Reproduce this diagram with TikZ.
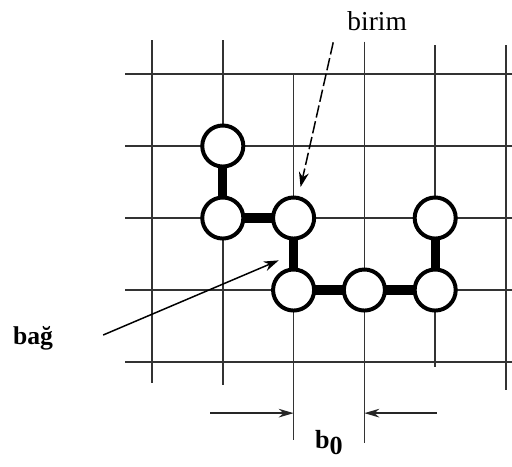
\documentclass[tikz,border=0pt]{standalone}
\usepackage{fontspec}
\setmainfont{Liberation Serif}
\usetikzlibrary{
  arrows.meta,
  calc
}

\begin{document}
\begin{tikzpicture}[
  x=1cm, y=1.017cm,
  every node/.style={font=\fontsize{11}{13}\selectfont},
  gridline/.style={line width=0.6pt, color=black!80},
  unit/.style={circle, draw, line width=1.6pt, fill=white,
    minimum size=0.58cm, inner sep=0pt},
  bond/.style={line width=3.7pt, shorten <=-1pt, shorten >=-1pt},
  ptr/.style={-{Stealth[length=6pt, width=4pt]}, line width=0.6pt},
  dimarr/.style={-{Stealth[length=6pt, width=3.5pt]}, line width=0.6pt, color=black!85}
]
  \useasboundingbox (-2.147,-1.458) rectangle (5.085,5.028);

  % lattice
  \foreach \r in {0,...,4}
    \draw[gridline] (-0.38,\r) -- (5.1,\r);
  \foreach \c/\t/\b in {0/4.47/-0.29, 1/4.47/-0.32, 2/4/-1.08,
                        3/4.45/-1.12, 4/4.4/-0.07, 5/4.4/-0.39}
    \draw[gridline] (\c,\t) -- (\c,\b);

  % chain units
  \foreach \n/\x/\y in {u1/1/3, u2/1/2, u3/2/2, u4/2/1, u5/3/1, u6/4/1, u7/4/2}
    \node[unit] (\n) at (\x,\y) {};
  \foreach \a/\b in {u1/u2,u2/u3,u3/u4,u4/u5,u5/u6,u6/u7}
    \draw[bond] (\a) -- (\b);

  % labels
  \node (birim) at (3.18,4.73) {birim};
  \coordinate (birimtail) at (2.56,4.44);
  \draw[ptr, dash pattern=on 5pt off 1.5pt, shorten >=3.7pt] (birimtail) -- (u3);

  \node[font=\fontsize{10.3}{12}\selectfont\bfseries] (bag) at (-1.68,0.33) {bağ};
  \coordinate (bagtail) at (-0.69,0.375);
  \coordinate (bond34) at ($(u3)!0.5!(u4)$);
  \draw[ptr, shorten >=6.5pt] (bagtail) -- (bond34);

  % spacing b0
  \coordinate (dimL) at (2,-0.71);
  \coordinate (dimR) at (3,-0.71);
  \coordinate (dimLtail) at (0.82,-0.71);
  \coordinate (dimRtail) at (4.02,-0.71);
  \draw[dimarr] (dimLtail) -- (dimL);
  \draw[dimarr] (dimRtail) -- (dimR);
  \node[font=\fontsize{10.5}{12}\selectfont\bfseries] (bzero) at (2.5,-1.12)
    {b\raisebox{-0.45ex}{0}};
\end{tikzpicture}
\end{document}
